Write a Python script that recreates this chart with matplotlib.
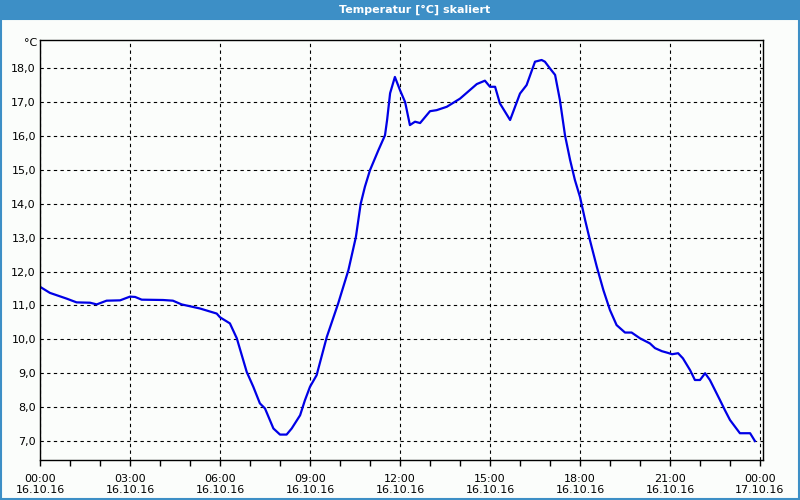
import matplotlib.pyplot as plt
from matplotlib.patches import Rectangle
from matplotlib.ticker import FixedLocator, FuncFormatter

# hours since 16.10.16 00:00 and temperature in degC
hours = [0.0, 0.33, 0.89, 1.22, 1.67, 1.89, 2.22, 2.67, 3.0, 3.17, 3.39, 4.1, 4.43,
         4.72, 5.33, 5.89, 6.0, 6.33, 6.56, 6.89, 7.11, 7.33, 7.5, 7.78, 8.0,
         8.22, 8.39, 8.67, 8.83, 9.0, 9.22, 9.56, 9.94, 10.28, 10.53, 10.69,
         10.83, 11.0, 11.28, 11.5, 11.57, 11.67, 11.83, 12.0, 12.17, 12.33, 12.5,
         12.67, 13.0, 13.22, 13.56, 14.0, 14.56, 14.83, 15.0, 15.17, 15.33, 15.67,
         16.0, 16.22, 16.5, 16.72, 16.83, 17.0, 17.17, 17.33, 17.5, 17.67, 17.83,
         18.0, 18.17, 18.33, 18.56, 18.78, 19.0, 19.22, 19.5, 19.72, 20.0, 20.33,
         20.5, 20.73, 20.93, 21.07, 21.27, 21.43, 21.67, 21.83, 22.0, 22.17, 22.33,
         22.67, 22.83, 23.0, 23.33, 23.67, 23.83]
temps = [11.55, 11.37, 11.2, 11.09, 11.08, 11.03, 11.14, 11.15, 11.26, 11.25,
         11.17, 11.16, 11.14, 11.03, 10.91, 10.76, 10.65, 10.47, 10.03, 9.04,
         8.6, 8.11, 7.96, 7.37, 7.19, 7.19, 7.37, 7.76, 8.2, 8.6, 8.94, 10.07,
         11.06, 12.04, 13.02, 14.0, 14.5, 14.99, 15.58, 16.02, 16.47, 17.26,
         17.74, 17.35, 17.0, 16.32, 16.42, 16.38, 16.73, 16.76, 16.86, 17.1,
         17.53, 17.63, 17.45, 17.45, 16.96, 16.47, 17.25, 17.5, 18.19, 18.24,
         18.19, 17.99, 17.8, 17.06, 16.02, 15.29, 14.7, 14.2, 13.52, 12.93, 12.14,
         11.45, 10.86, 10.42, 10.2, 10.2, 10.03, 9.88, 9.74, 9.65, 9.6, 9.56,
         9.59, 9.44, 9.09, 8.8, 8.8, 9.0, 8.8, 8.2, 7.91, 7.62, 7.23, 7.23, 7.0]

x_labels = ['00:00\n16.10.16', '03:00\n16.10.16', '06:00\n16.10.16',
            '09:00\n16.10.16', '12:00\n16.10.16', '15:00\n16.10.16',
            '18:00\n16.10.16', '21:00\n16.10.16', '00:00\n17.10.16']

bg = '#fbfdfb'
bar_blue = '#3d8fc6'

fig = plt.figure(figsize=(8, 5), dpi=100, facecolor=bg)

# title bar and frame
fig.patches.append(Rectangle((0, 0.96), 1, 0.04, transform=fig.transFigure,
                             facecolor=bar_blue, edgecolor='none', zorder=0))
fig.patches.append(Rectangle((0.0012, 0.002), 0.9975, 0.96, transform=fig.transFigure,
                             facecolor='none', edgecolor=bar_blue, lw=1.5, zorder=0))
fig.text(0.518, 0.98, 'Temperatur [°C] skaliert', color='white', ha='center',
         va='center', fontsize=8, fontweight='bold')

ax = fig.add_axes([0.05, 0.08, 0.90375, 0.84])
ax.set_facecolor(bg)
ax.plot(hours, temps, color='#0000e6', lw=1.6)

ax.set_xlim(0, 24.1)
ax.set_ylim(6.44, 18.83)

ax.xaxis.set_major_locator(FixedLocator(range(0, 25, 3)))
ax.xaxis.set_minor_locator(FixedLocator(range(0, 25)))
ax.set_xticklabels(x_labels)
ax.set_yticks(range(7, 19))
ax.yaxis.set_major_formatter(FuncFormatter(lambda v, p: f'{v:.1f}'.replace('.', ',')))

ax.tick_params(axis='x', which='both', direction='out', length=4, width=1,
               labelsize=8, pad=6)
ax.tick_params(axis='y', length=0, labelsize=8, pad=3)
ax.grid(True, which='major', color='black', linestyle=(0, (3, 3)), lw=0.8)

for s in ax.spines.values():
    s.set_color('black')
    s.set_linewidth(1)

fig.text(0.047, 0.905, '°C', ha='right', va='bottom', fontsize=8)

fig.savefig('out.png', dpi=100, facecolor=bg)
